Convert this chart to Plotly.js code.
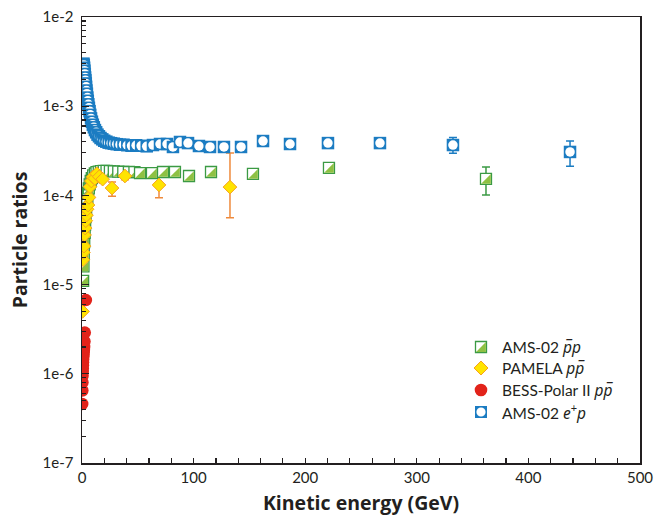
<!DOCTYPE html>
<html><head><meta charset="utf-8">
<script src="https://cdn.plot.ly/plotly-3.0.1.min.js"></script>
<style>html,body{margin:0;padding:0;background:#fff}#chart{width:666px;height:516px}</style>
</head><body><div id="chart"></div>
<script>
// ---- AMS-02 antiproton / proton ratio ----
const amsPbarE = [1.0,1.3,1.6,2.0,2.4,2.8,3.2,3.7,4.2,4.8,5.4,6.1,6.9,7.8,8.8,10,11.5,13,15,17,19.5,22,25,28.5,32.5,37,42,47,52,62.7,72.6,83.3,95.9,115.6,153.2,221.3,362];
const amsPbarR = [1.1e-5,1.6e-5,2.2e-5,3.0e-5,3.8e-5,4.7e-5,5.7e-5,6.8e-5,8.0e-5,9.4e-5,1.07e-4,1.2e-4,1.33e-4,1.45e-4,1.56e-4,1.68e-4,1.76e-4,1.82e-4,1.85e-4,1.87e-4,1.88e-4,1.88e-4,1.87e-4,1.86e-4,1.85e-4,1.84e-4,1.83e-4,1.82e-4,1.78e-4,1.78e-4,1.83e-4,1.83e-4,1.65e-4,1.83e-4,1.74e-4,2.03e-4,1.53e-4];
const amsPbarErrE = [362];
const amsPbarErrR = [1.53e-4];
const amsPbarErrUp = [0.55e-4];
const amsPbarErrDown = [0.52e-4];

// ---- PAMELA p pbar ----
const pamelaE = [0.5,0.9,1.3,1.8,2.3,2.8,3.4,4.0,4.6,5.4,6.3,7.2,8.4,9.9,11.5,13.3,15.5,18.5,26.9,38.5,69,132.6];
const pamelaR = [5.0e-6,1.9e-5,2.3e-5,2.7e-5,3.6e-5,4.3e-5,5.2e-5,6.0e-5,7.0e-5,7.8e-5,9.5e-5,1.25e-4,1.45e-4,1.61e-4,1.55e-4,1.75e-4,1.62e-4,1.52e-4,1.21e-4,1.65e-4,1.31e-4,1.24e-4];
const pamelaErrE = [26.9,38.5,69,132.6];
const pamelaErrR = [1.21e-4,1.65e-4,1.31e-4,1.24e-4];
const pamelaErrUp = [2.0e-5,1.5e-5,3.7e-5,1.74e-4];
const pamelaErrDown = [2.3e-5,1.5e-5,3.7e-5,6.8e-5];

// ---- BESS-Polar II p pbar ----
const bessE = [0.2,0.3,0.4,0.5,0.6,0.7,0.8,0.9,1.0,1.15,1.3,1.5,1.7,1.9,2.2,2.5,3.5];
const bessR = [4.6e-7,6.5e-7,8.0e-7,9.5e-7,1.05e-6,1.15e-6,1.25e-6,1.35e-6,1.45e-6,1.55e-6,1.65e-6,1.75e-6,1.85e-6,2.0e-6,2.3e-6,2.9e-6,6.7e-6];

// ---- AMS-02 e+ / p ----
const amsPosE = [1.0,1.3,1.6,1.9,2.2,2.5,2.8,3.1,3.4,3.7,4.0,4.4,4.8,5.2,5.7,6.2,6.8,7.4,8.1,8.9,9.7,10.6,11.6,12.7,13.9,15.2,16.6,18.2,19.9,21.8,23.9,26.1,28.5,31.1,34.0,37.2,40.6,44.4,48.5,53.0,58.0,63.6,69.9,76.2,81.5,87.8,95,104.8,114.7,127.2,142.5,162.2,186.4,220.4,267,332.4,437.3];
const amsPosR = [2.9e-3,3.0e-3,2.9e-3,2.7e-3,2.5e-3,2.3e-3,2.1e-3,1.95e-3,1.8e-3,1.65e-3,1.5e-3,1.38e-3,1.25e-3,1.15e-3,1.05e-3,9.6e-4,8.8e-4,8.0e-4,7.3e-4,6.7e-4,6.2e-4,5.8e-4,5.4e-4,5.1e-4,4.8e-4,4.6e-4,4.4e-4,4.25e-4,4.1e-4,4.0e-4,3.9e-4,3.85e-4,3.8e-4,3.75e-4,3.7e-4,3.7e-4,3.65e-4,3.6e-4,3.65e-4,3.6e-4,3.55e-4,3.67e-4,3.77e-4,3.77e-4,3.49e-4,3.97e-4,3.86e-4,3.58e-4,3.49e-4,3.49e-4,3.49e-4,4.07e-4,3.77e-4,3.86e-4,3.86e-4,3.67e-4,3.07e-4];
const amsPosErrE = [332.4,437.3];
const amsPosErrR = [3.67e-4,3.07e-4];
const amsPosErrUp = [0.8e-4,1.0e-4];
const amsPosErrDown = [0.7e-4,0.95e-4];

// ---- axis ticks ----
const yTickVals = [1e-7,1e-6,1e-5,1e-4,1e-3,1e-2];
const yTickText = ['1e-7','1e-6','1e-5','1e-4','1e-3','1e-2'];
const xTickVals = [0,100,200,300,400,500];

// ---- legend ----
const PB = 'p\u0305';
const IT = s => '<span style="font-family:\'Noto Sans\';font-style:italic">'+s+'</span>';
const legendLabels = ['AMS-02 '+IT(PB+'p'),'PAMELA '+IT('p'+PB),'BESS-Polar II '+IT('p'+PB),'AMS-02 '+IT('e')+'<sup>+</sup>'+IT('p')];

const GREEN='#3b9a44', GREENFILL='#8ec143', YEL='#ffe400', YELLINE='#f6a11f', ORANGE='#ef8a3c', RED='#e2231a', BLUE='#1b7cc2';
const FONT='Lato, "Open Sans", sans-serif';
const TFONT='"Open Sans", Lato, sans-serif';

function dup(a){const o=[];a.forEach(v=>{o.push(v,v);});return o;}
function alt(a,b,n){const o=[];for(let i=0;i<n;i++){o.push(a,b);}return o;}

const minorY=[];
for(let e=-7;e<-2;e++){for(let k=2;k<10;k++){minorY.push(k*Math.pow(10,e));}}

function errTrace(x,y,up,down,color){
  return {x:x,y:y,type:'scatter',mode:'markers',showlegend:false,hoverinfo:'skip',
    marker:{size:1,color:'rgba(0,0,0,0)'},
    error_y:{type:'data',symmetric:false,array:up,arrayminus:down,color:color,thickness:1.5,width:4}};
}

const nG=amsPbarE.length, nB=amsPosE.length;
const data=[
  errTrace(amsPbarErrE,amsPbarErrR,amsPbarErrUp,amsPbarErrDown,GREEN),
  errTrace(pamelaErrE,pamelaErrR,pamelaErrUp,pamelaErrDown,ORANGE),
  errTrace(amsPosErrE,amsPosErrR,amsPosErrUp,amsPosErrDown,BLUE),
  {name:'AMS-02 pbar p',x:dup(amsPbarE),y:dup(amsPbarR),type:'scatter',mode:'markers',showlegend:false,
   marker:{symbol:'square',size:11,opacity:1,color:alt('#ffffff',GREENFILL,nG),line:{color:alt(GREEN,'rgba(0,0,0,0)',nG),width:alt(1.3,0,nG)}}},
  {name:'PAMELA',x:pamelaE,y:pamelaR,type:'scatter',mode:'markers',showlegend:false,
   marker:{symbol:'diamond',size:10.5,opacity:1,color:YEL,line:{color:YELLINE,width:1}}},
  {name:'BESS-Polar II',x:bessE,y:bessR,type:'scatter',mode:'markers',showlegend:false,
   marker:{symbol:'circle',size:12.5,opacity:1,color:RED,line:{width:0}}},
  {name:'AMS-02 e+ p',x:dup(amsPosE),y:dup(amsPosR),type:'scatter',mode:'markers',showlegend:false,
   marker:{symbol:alt('square','circle',nB),size:alt(12.5,9.5,nB),opacity:1,color:alt(BLUE,'#ffffff',nB),line:{width:0}}}
];

// legend drawn as icons + annotations (paper coordinates)
const L=82, T=17, W=558, H=446;
const px2x=p=>(p-L)/W, py2y=p=>(T+H-p)/H;
const iconX=px2x(481), textX=px2x(500);
const rowsY=[347,368,390,412].map(py2y);
const shapes=[
  {type:'rect',xref:'paper',yref:'paper',xsizemode:'pixel',ysizemode:'pixel',xanchor:iconX,yanchor:rowsY[0],x0:-5.5,x1:5.5,y0:-5.5,y1:5.5,fillcolor:'#fff',line:{color:GREEN,width:1.3}},
  {type:'path',xref:'paper',yref:'paper',xsizemode:'pixel',ysizemode:'pixel',xanchor:iconX,yanchor:rowsY[0],path:'M4.9,4.9 L4.9,-4.9 L-4.9,-4.9 Z',fillcolor:GREENFILL,line:{width:0}},
  {type:'path',xref:'paper',yref:'paper',xsizemode:'pixel',ysizemode:'pixel',xanchor:iconX,yanchor:rowsY[1],path:'M-7,0 L0,7 L7,0 L0,-7 Z',fillcolor:YEL,line:{color:YELLINE,width:1}},
  {type:'circle',xref:'paper',yref:'paper',xsizemode:'pixel',ysizemode:'pixel',xanchor:iconX,yanchor:rowsY[2],x0:-6.3,x1:6.3,y0:-6.3,y1:6.3,fillcolor:RED,line:{width:0}},
  {type:'rect',xref:'paper',yref:'paper',xsizemode:'pixel',ysizemode:'pixel',xanchor:iconX,yanchor:rowsY[3],x0:-6,x1:6,y0:-6,y1:6,fillcolor:BLUE,line:{width:0}},
  {type:'circle',xref:'paper',yref:'paper',xsizemode:'pixel',ysizemode:'pixel',xanchor:iconX,yanchor:rowsY[3],x0:-4.6,x1:4.6,y0:-4.6,y1:4.6,fillcolor:'#fff',line:{width:0}}
];
const annotations=legendLabels.map((t,i)=>({text:t,xref:'paper',yref:'paper',x:textX,y:rowsY[i],xanchor:'left',yanchor:'middle',showarrow:false,font:{family:FONT,size:15.5,color:'#231f20'}}));

const axisCommon={showline:true,linecolor:'#231f20',linewidth:1.5,mirror:true,showgrid:false,zeroline:false,
  ticks:'inside',tickcolor:'#231f20',tickwidth:1.2,tickfont:{family:FONT,size:15,color:'#231f20'}};

const layout={
  width:666,height:516,margin:{l:82,r:26,t:17,b:53},
  paper_bgcolor:'#fff',plot_bgcolor:'#fff',showlegend:false,
  xaxis:Object.assign({},axisCommon,{range:[0,500],tickmode:'array',tickvals:xTickVals,ticklen:5,
    minor:{dtick:20,tick0:0,ticks:'inside',ticklen:5,tickcolor:'#231f20',tickwidth:1.2},
    title:{text:'<b>Kinetic energy (GeV)</b>',font:{family:TFONT,size:19.5,color:'#231f20'},standoff:12}}),
  yaxis:Object.assign({},axisCommon,{type:'log',range:[-7,-2],tickmode:'array',tickvals:yTickVals,ticktext:yTickText,ticklen:7,
    ticklabelstandoff:4,
    minor:{tickmode:'array',tickvals:minorY,ticks:'inside',ticklen:4,tickcolor:'#231f20',tickwidth:1.2},
    title:{text:'<b>Particle ratios</b>',font:{family:TFONT,size:19.5,color:'#231f20'},standoff:10}}),
  shapes:shapes,annotations:annotations
};

function halfSquares(){
  const traces=document.querySelectorAll('#chart .scatterlayer .trace');
  const g=traces[3]; if(!g) return;
  const pts=g.querySelectorAll('path.point');
  pts.forEach((p,i)=>{ if(i%2===1){ p.setAttribute('d','M4.85,-4.85V4.85H-4.85Z'); } });
}
Plotly.newPlot('chart',data,layout,{displayModeBar:false,staticPlot:true}).then(gd=>{
  halfSquares();
  gd.on('plotly_afterplot',halfSquares);
});
</script></body></html>
